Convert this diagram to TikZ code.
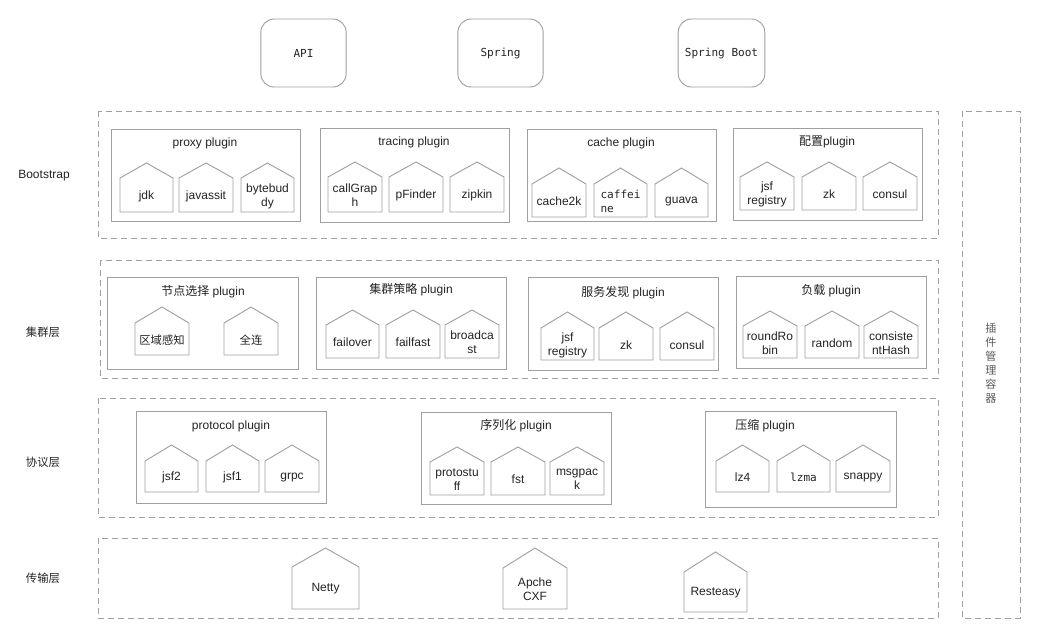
\documentclass[tikz,border=0pt]{standalone}
\usepackage{fontspec}
\setmainfont{Liberation Sans}
\newfontfamily\cjk{Noto Sans CJK SC}
\newfontfamily\mono{DejaVu Sans Mono}
\usepackage{tikz}
\definecolor{edge}{RGB}{160,160,160}
\definecolor{ink}{RGB}{35,35,35}

% house: name, left, right, apex, eave, bottom, text
\newcommand{\pluginhouse}[8][]{%
  \draw[house] (#3,#7) -- (#3,#6) -- ({(#3+#4)/2},#5) -- (#4,#6) -- (#4,#7) -- cycle;
  \node[txt,#1] (#2) at ({(#3+#4)/2},{(#6+#7)/2+1}) {#8};}

\begin{document}
\begin{tikzpicture}[x=0.75pt,y=-0.75pt,
  house/.style={draw=edge,line width=0.7pt,line join=miter},
  group/.style={draw=edge,line width=0.7pt},
  layer/.style={draw=edge,line width=0.7pt,dash pattern=on 4.5pt off 3pt},
  topbox/.style={draw=edge,line width=0.7pt,rounded corners=10pt,minimum height=51pt,
    font=\mono\fontsize{8.3}{10}\selectfont,text=ink},
  txt/.style={align=center,inner sep=0pt,text=ink,font=\fontsize{9}{10.5}\selectfont},
  lbl/.style={inner sep=0pt,text=ink,font=\fontsize{9}{10.5}\selectfont},
  monotxt/.style={font=\mono\fontsize{8.3}{10.5}\selectfont}]
\useasboundingbox (0,0) rectangle (1037,637);

% top
\node[topbox,minimum width=64pt] (api) at (303.5,53) {API};
\node[topbox,minimum width=64pt] (spring) at (500.5,53) {Spring};
\node[topbox,minimum width=65pt] (boot) at (721.5,53) {Spring Boot};

% Bootstrap
\draw[layer] (98,111) rectangle (938,238);
\node[lbl] (bootstrap) at (44,176) {Bootstrap};
\draw[group] (111,129) rectangle (300,221);
\node[lbl] (proxy) at (205,143) {proxy plugin};
\pluginhouse{jdk}{120}{173}{163}{178}{212}{jdk}
\pluginhouse{javassit}{179}{233}{163}{178}{212}{javassit}
\pluginhouse{bytebuddy}{241}{294}{163}{178}{212}{bytebud\\dy}
\draw[group] (320,128) rectangle (509,222);
\node[lbl] (tracing) at (414,142) {tracing plugin};
\pluginhouse{callgraph}{328}{382}{162}{177}{212}{callGrap\\h}
\pluginhouse{pfinder}{389}{443}{162}{177}{212}{pFinder}
\pluginhouse{zipkin}{450}{504}{162}{177}{212}{zipkin}
\draw[group] (527,129) rectangle (716,221);
\node[lbl] (cache) at (621,143) {cache plugin};
\pluginhouse{cachek}{532}{586}{168}{184}{217}{cache2k}
\pluginhouse[monotxt,align=left]{caffeine}{594}{647}{168}{184}{217}{caffei\\ne}
\pluginhouse{guava}{655}{708}{168}{184}{217}{guava}
\draw[group] (733,128) rectangle (922,220);
\node[lbl] (config) at (827,142) {{\cjk 配置}plugin};
\pluginhouse{jsfreg}{740}{794}{162}{177}{210}{jsf\\registry}
\pluginhouse{zk}{802}{856}{162}{177}{210}{zk}
\pluginhouse{consul}{863}{917}{162}{177}{210}{consul}

% cluster
\draw[layer] (100,260) rectangle (938,378);
\node[lbl,font=\cjk\fontsize{8.5}{10}\selectfont] (cluster) at (43,332) {集群层};
\draw[group] (107,277) rectangle (298,369);
\node[lbl] (select) at (203,292) {{\cjk 节点选择} plugin};
\pluginhouse[font=\cjk\fontsize{8.5}{10}\selectfont]{zone}{135}{189}{307}{323}{355}{区域感知}
\pluginhouse[font=\cjk\fontsize{8.5}{10}\selectfont]{full}{224}{278}{307}{323}{355}{全连}
\draw[group] (316,277) rectangle (506,369);
\node[lbl] (strategy) at (411,290) {{\cjk 集群策略} plugin};
\pluginhouse{failover}{326}{379}{310}{325}{358}{failover}
\pluginhouse{failfast}{386}{440}{310}{325}{358}{failfast}
\pluginhouse{broadcast}{445}{499}{310}{325}{358}{broadca\\st}
\draw[group] (528,277) rectangle (718,370);
\node[lbl] (discovery) at (623,293) {{\cjk 服务发现} plugin};
\pluginhouse{djsf}{541}{594}{312}{328}{360}{jsf\\registry}
\pluginhouse{dzk}{599}{653}{312}{328}{360}{zk}
\pluginhouse{dconsul}{660}{714}{312}{328}{360}{consul}
\draw[group] (736,276) rectangle (926,368);
\node[lbl] (balance) at (831,291) {{\cjk 负载} plugin};
\pluginhouse{roundrobin}{743}{797}{311}{326}{358}{roundRo\\bin}
\pluginhouse{random}{805}{859}{311}{326}{358}{random}
\pluginhouse{consistent}{864}{918}{311}{326}{358}{consiste\\ntHash}

% protocol
\draw[layer] (98,398) rectangle (938,517);
\node[lbl,font=\cjk\fontsize{8.5}{10}\selectfont] (protocol) at (43,462) {协议层};
\draw[group] (136,411) rectangle (326,503);
\node[lbl] (proto) at (231,426) {protocol plugin};
\pluginhouse{jsftwo}{145}{198}{445}{461}{492}{jsf2}
\pluginhouse{jsfone}{206}{259}{445}{461}{492}{jsf1}
\pluginhouse{grpc}{265}{319}{445}{461}{492}{grpc}
\draw[group] (421,412) rectangle (611,504);
\node[lbl] (serial) at (516,426) {{\cjk 序列化} plugin};
\pluginhouse{protostuff}{430}{484}{447}{462}{495}{protostu\\ff}
\pluginhouse{fst}{491}{545}{447}{462}{495}{fst}
\pluginhouse{msgpack}{550}{604}{447}{462}{495}{msgpac\\k}
\draw[group] (705,411) rectangle (896,507);
\node[lbl] (compress) at (765,426) {{\cjk 压缩} plugin};
\pluginhouse{lzfour}{716}{769}{445}{461}{492}{lz4}
\pluginhouse[monotxt]{lzma}{777}{830}{445}{461}{492}{lzma}
\pluginhouse{snappy}{836}{890}{445}{461}{492}{snappy}

% transport
\draw[layer] (98,538) rectangle (938,618);
\node[lbl,font=\cjk\fontsize{8.5}{10}\selectfont] (transport) at (43,578) {传输层};
\pluginhouse{netty}{292}{359}{548}{567}{609}{Netty}
\pluginhouse{cxf}{503}{567}{548}{568}{609}{Apche\\CXF}
\pluginhouse{resteasy}{684}{747}{552}{572}{612}{Resteasy}

% container
\draw[layer] (962,111) rectangle (1020,618);
\node[lbl,align=center,text=black!65,font=\cjk\fontsize{8.3}{10.5}\selectfont] (container) at (991,363) {插\\件\\管\\理\\容\\器};
\end{tikzpicture}
\end{document}
